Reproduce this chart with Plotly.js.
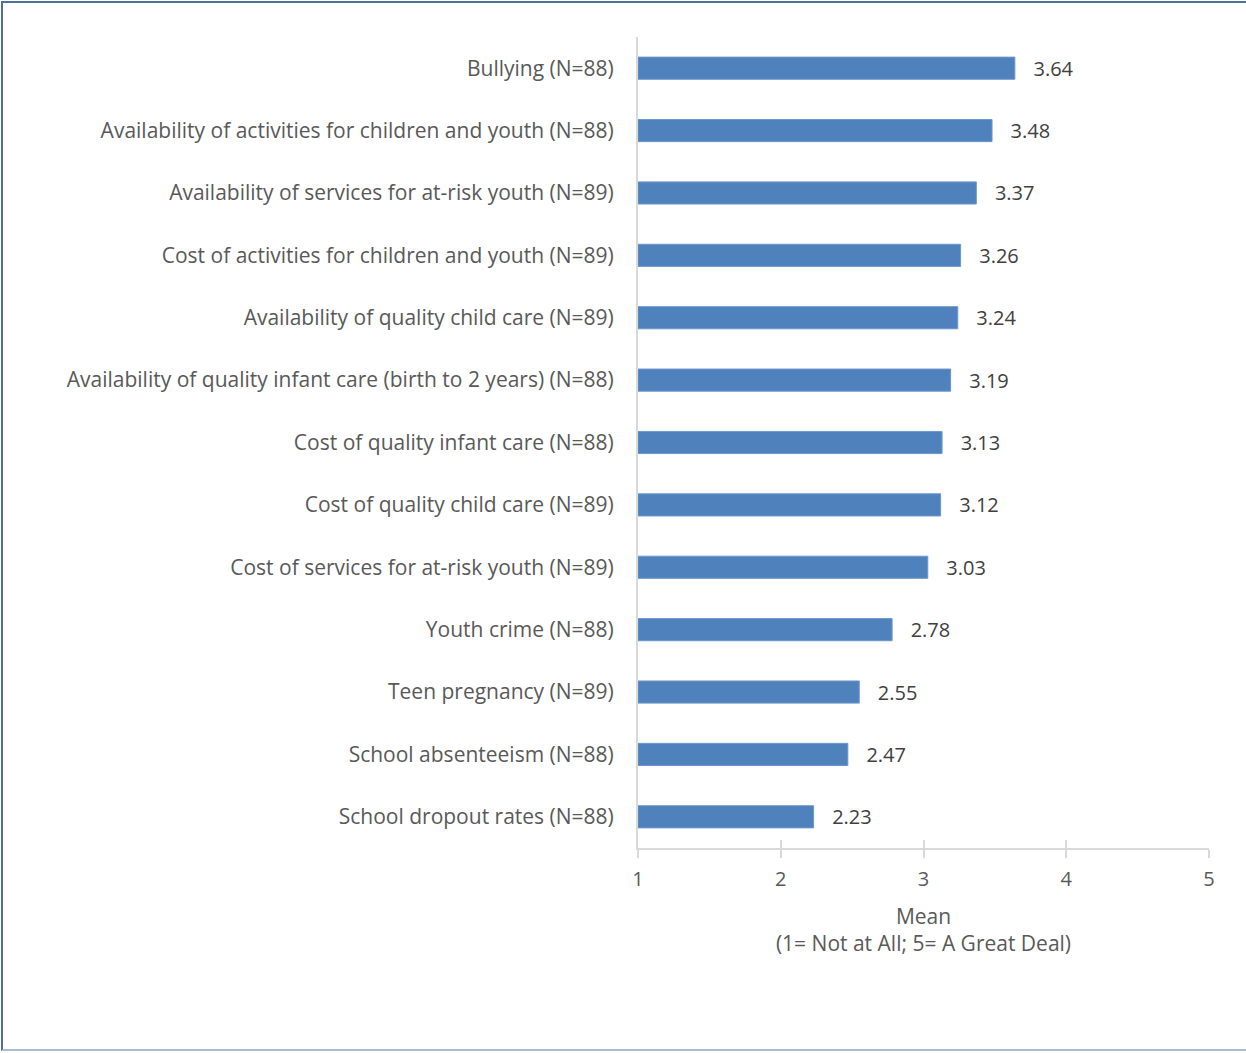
<!DOCTYPE html>
<html>
<head>
<meta charset="utf-8">
<script src="https://cdn.plot.ly/plotly-3.0.1.min.js"></script>
<style>
html,body{margin:0;padding:0;background:#fff;}
#wrap{position:relative;width:1246px;height:1053px;}
#chart{position:absolute;left:0;top:0;width:1246px;height:1053px;}
#frame{position:absolute;left:1px;top:1px;width:1245px;height:1050px;border-left:2px solid #4f6f9c;border-top:2px solid #4f6f9c;border-bottom:2px solid #a7bcd6;box-sizing:border-box;pointer-events:none;}
</style>
</head>
<body>
<div id="wrap"><div id="chart"></div><div id="frame"></div></div>
<script>
const categories = [
  "Bullying (N=88)",
  "Availability of activities for children and youth (N=88)",
  "Availability of services for at-risk youth (N=89)",
  "Cost of activities for children and youth (N=89)",
  "Availability of quality child care (N=89)",
  "Availability of quality infant care (birth to 2 years) (N=88)",
  "Cost of quality infant care (N=88)",
  "Cost of quality child care (N=89)",
  "Cost of services for at-risk youth (N=89)",
  "Youth crime (N=88)",
  "Teen pregnancy (N=89)",
  "School absenteeism (N=88)",
  "School dropout rates (N=88)"
];
const means = [3.64, 3.48, 3.37, 3.26, 3.24, 3.19, 3.13, 3.12, 3.03, 2.78, 2.55, 2.47, 2.23];
const xTicks = [1, 2, 3, 4, 5];
const xTitle = "Mean<br>(1= Not at All; 5= A Great Deal)";

const font = "'Open Sans', Lato, sans-serif";
const trace = {
  type: 'bar',
  orientation: 'h',
  y: categories,
  x: means.map(v => v - 1),
  base: 1,
  marker: {color: '#4f81bd', line: {color: '#6d97cc', width: 1}},
  text: means.map(v => '\u00a0\u00a0\u00a0' + v.toFixed(2)),
  textposition: 'outside',
  constraintext: 'none',
  cliponaxis: false,
  textfont: {family: font, size: 20, color: '#404040'},
  hoverinfo: 'skip'
};

const layout = {
  width: 1246, height: 1053,
  margin: {l: 638, r: 37, t: 37, b: 205},
  paper_bgcolor: '#fff', plot_bgcolor: '#fff',
  showlegend: false,
  bargap: 0.645,
  font: {family: font, color: '#595959', size: 21},
  xaxis: {
    range: [1, 5],
    tickvals: xTicks,
    ticktext: xTicks.map(String),
    showgrid: false, zeroline: false,
    showline: true, linecolor: '#d9d9d9', linewidth: 2,
    ticks: 'outside', ticklen: 8, tickcolor: '#d9d9d9', tickwidth: 2,
    ticklabelstandoff: 4,
    tickfont: {family: font, size: 20, color: '#595959'},
    title: {text: xTitle, font: {family: font, size: 21, color: '#595959'}, standoff: 18},
    fixedrange: true
  },
  xaxis2: {
    range: [1, 5], overlaying: 'x', tickvals: xTicks,
    showticklabels: false, showgrid: false, zeroline: false, showline: false,
    ticks: 'inside', ticklen: 8, tickcolor: '#d9d9d9', tickwidth: 2
  },
  yaxis: {
    type: 'category',
    range: [12.5, -0.5],
    showgrid: false, zeroline: false,
    showline: true, linecolor: '#d9d9d9', linewidth: 2,
    ticks: '', ticklabelstandoff: 18,
    tickfont: {family: font, size: 21, color: '#595959'},
    fixedrange: true
  }
};

const dummy = {type: 'scatter', x: [1], y: [categories[0]], xaxis: 'x2', mode: 'markers', marker: {opacity: 0}, hoverinfo: 'skip'};

Plotly.newPlot('chart', [trace, dummy], layout, {displayModeBar: false, staticPlot: true});
</script>
</body>
</html>
